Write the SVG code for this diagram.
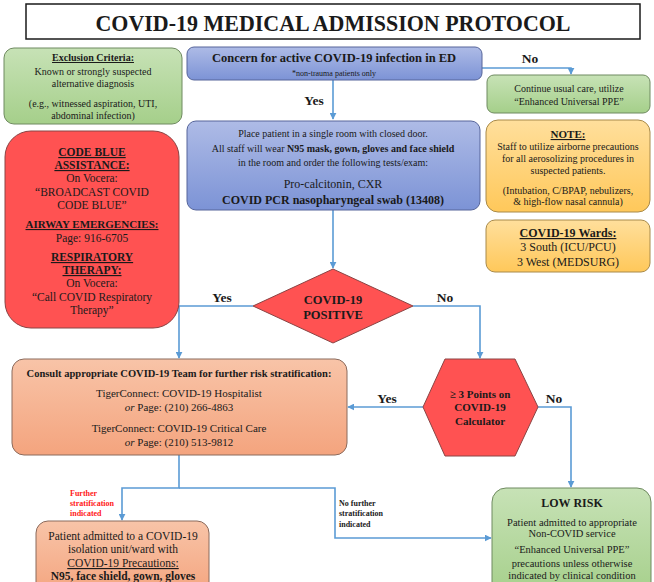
<svg xmlns="http://www.w3.org/2000/svg" width="654" height="582" viewBox="0 0 654 582" font-family="'Liberation Serif', serif">
<defs>
<linearGradient id="gGreen" x1="0" y1="0" x2="0" y2="1"><stop offset="0" stop-color="#c7e2b6"/><stop offset="1" stop-color="#a5cf8a"/></linearGradient>
<linearGradient id="gBlue" x1="0" y1="0" x2="0" y2="1"><stop offset="0" stop-color="#aebbe6"/><stop offset="1" stop-color="#7c93d6"/></linearGradient>
<linearGradient id="gOrange" x1="0" y1="0" x2="0" y2="1"><stop offset="0" stop-color="#ffdf9c"/><stop offset="1" stop-color="#ffc85a"/></linearGradient>
<linearGradient id="gSalmon" x1="0" y1="0" x2="0" y2="1"><stop offset="0" stop-color="#f8c4a8"/><stop offset="1" stop-color="#f4a47e"/></linearGradient>
<marker id="arr" viewBox="0 0 10 10" refX="9" refY="5" markerWidth="7" markerHeight="7" markerUnits="userSpaceOnUse" orient="auto"><path d="M0,0 L10,5 L0,10 z" fill="#5b9bd5"/></marker>
</defs>
<rect width="654" height="582" fill="#ffffff"/>

<g id="title" fill="#1a1a1a" text-anchor="middle">
<rect x="26" y="4" width="614" height="35" fill="#ffffff" stroke="#1a1a1a" stroke-width="1.5"/>
<text font-family="'Liberation Serif', serif" x="333" y="31" font-weight="bold" font-size="24" textLength="475" lengthAdjust="spacingAndGlyphs"><tspan>COVID-19 MEDICAL ADMISSION PROTOCOL</tspan></text>
</g>

<g id="connectors" fill="none" stroke="#5b9bd5" stroke-width="1.6">
<path d="M482,68 H571 V74" marker-end="url(#arr)"/>
<path d="M333,80 V119" marker-end="url(#arr)"/>
<path d="M333,210 V268" marker-end="url(#arr)"/>
<path d="M253,306 H179 V358" marker-end="url(#arr)"/>
<path d="M413,306 H480 V358" marker-end="url(#arr)"/>
<path d="M423,407 H348" marker-end="url(#arr)"/>
<path d="M538,407 H571 V487" marker-end="url(#arr)"/>
<path d="M179,455 V488 H122 V520" marker-end="url(#arr)"/>
<path d="M179,488 H335 V538 H491" marker-end="url(#arr)"/>
</g>
<g id="connector-labels" fill="#1a1a1a" text-anchor="middle" font-weight="bold" font-size="13.5">
<text font-family="'Liberation Serif', serif" x="530" y="63"><tspan>No</tspan></text>
<text font-family="'Liberation Serif', serif" x="314" y="105"><tspan>Yes</tspan></text>
<text font-family="'Liberation Serif', serif" x="222" y="302"><tspan>Yes</tspan></text>
<text font-family="'Liberation Serif', serif" x="445" y="302"><tspan>No</tspan></text>
<text font-family="'Liberation Serif', serif" x="387" y="403"><tspan>Yes</tspan></text>
<text font-family="'Liberation Serif', serif" x="554" y="403"><tspan>No</tspan></text>
<g font-size="8" text-anchor="start">
<text font-family="'Liberation Serif', serif" x="70" y="496" fill="#ff2020"><tspan>Further</tspan></text>
<text font-family="'Liberation Serif', serif" x="70" y="506" fill="#ff2020"><tspan>stratification</tspan></text>
<text font-family="'Liberation Serif', serif" x="70" y="516" fill="#ff2020"><tspan>indicated</tspan></text>
<text font-family="'Liberation Serif', serif" x="339" y="506"><tspan>No further</tspan></text>
<text font-family="'Liberation Serif', serif" x="339" y="516"><tspan>stratification</tspan></text>
<text font-family="'Liberation Serif', serif" x="339" y="527"><tspan>indicated</tspan></text>
</g>
</g>

<g id="exclusion" fill="#1a1a1a" text-anchor="middle" font-size="10">
<rect x="4" y="48" width="178" height="76" rx="10" fill="url(#gGreen)" stroke="#6f8a60"/>
<text font-family="'Liberation Serif', serif" x="93" y="61" font-weight="bold" text-decoration="underline"><tspan>Exclusion Criteria:</tspan></text>
<text font-family="'Liberation Serif', serif" x="93" y="74.5"><tspan>Known or strongly suspected</tspan></text>
<text font-family="'Liberation Serif', serif" x="93" y="87"><tspan>alternative diagnosis</tspan></text>
<text font-family="'Liberation Serif', serif" x="93" y="106.5"><tspan>(e.g., witnessed aspiration, UTI,</tspan></text>
<text font-family="'Liberation Serif', serif" x="93" y="118.5"><tspan>abdominal infection)</tspan></text>
</g>

<g id="concern" fill="#1a1a1a" text-anchor="middle">
<rect x="187" y="47" width="295" height="33" rx="7" fill="url(#gBlue)" stroke="#56659a"/>
<text font-family="'Liberation Serif', serif" x="334" y="62" font-size="12.5" font-weight="bold"><tspan>Concern for active COVID-19 infection in ED</tspan></text>
<text font-family="'Liberation Serif', serif" x="334" y="76" font-size="8"><tspan>*non-trauma patients only</tspan></text>
</g>

<g id="continue" fill="#1a1a1a" text-anchor="middle" font-size="10">
<rect x="487" y="75" width="163" height="38" rx="7" fill="url(#gGreen)" stroke="#6f8a60"/>
<text font-family="'Liberation Serif', serif" x="569" y="92"><tspan>Continue usual care, utilize</tspan></text>
<text font-family="'Liberation Serif', serif" x="569" y="104.5"><tspan>“Enhanced Universal PPE”</tspan></text>
</g>

<g id="isolate" fill="#1a1a1a" text-anchor="middle" font-size="10">
<rect x="187" y="121" width="293" height="89" rx="9" fill="url(#gBlue)" stroke="#56659a"/>
<text font-family="'Liberation Serif', serif" x="333" y="136.5"><tspan>Place patient in a single room with closed door.</tspan></text>
<text font-family="'Liberation Serif', serif" x="333" y="151.5"><tspan>All staff will wear </tspan><tspan font-weight="bold">N95 mask, gown, gloves and face shield</tspan></text>
<text font-family="'Liberation Serif', serif" x="333" y="165.5"><tspan>in the room and order the following tests/exam:</tspan></text>
<text font-family="'Liberation Serif', serif" x="333" y="188" font-size="12"><tspan>Pro-calcitonin, CXR</tspan></text>
<text font-family="'Liberation Serif', serif" x="333" y="204" font-size="12" font-weight="bold"><tspan>COVID PCR nasopharyngeal swab (13408)</tspan></text>
</g>

<g id="codeblue" fill="#1a1a1a" text-anchor="middle" font-size="11.5">
<rect x="5" y="131" width="174" height="197" rx="26" fill="#ff5252" stroke="#8a4444"/>
<text font-family="'Liberation Serif', serif" x="92" y="156" font-weight="bold" text-decoration="underline"><tspan>CODE BLUE</tspan></text>
<text font-family="'Liberation Serif', serif" x="92" y="169" font-weight="bold" text-decoration="underline"><tspan>ASSISTANCE:</tspan></text>
<text font-family="'Liberation Serif', serif" x="92" y="182"><tspan>On Vocera:</tspan></text>
<text font-family="'Liberation Serif', serif" x="92" y="196"><tspan>“BROADCAST COVID</tspan></text>
<text font-family="'Liberation Serif', serif" x="92" y="209"><tspan>CODE BLUE”</tspan></text>
<text font-family="'Liberation Serif', serif" x="92" y="228" font-size="11" font-weight="bold" text-decoration="underline"><tspan>AIRWAY EMERGENCIES:</tspan></text>
<text font-family="'Liberation Serif', serif" x="92" y="242"><tspan>Page: 916-6705</tspan></text>
<text font-family="'Liberation Serif', serif" x="92" y="261" font-weight="bold" text-decoration="underline"><tspan>RESPIRATORY</tspan></text>
<text font-family="'Liberation Serif', serif" x="92" y="274" font-weight="bold" text-decoration="underline"><tspan>THERAPY:</tspan></text>
<text font-family="'Liberation Serif', serif" x="92" y="287"><tspan>On Vocera:</tspan></text>
<text font-family="'Liberation Serif', serif" x="92" y="301"><tspan>“Call COVID Respiratory</tspan></text>
<text font-family="'Liberation Serif', serif" x="92" y="314"><tspan>Therapy”</tspan></text>
</g>

<g id="note" fill="#1a1a1a" text-anchor="middle" font-size="10">
<rect x="486" y="120" width="164" height="92" rx="12" fill="url(#gOrange)" stroke="#a88a4a"/>
<text font-family="'Liberation Serif', serif" x="568" y="138" font-size="11" font-weight="bold" text-decoration="underline"><tspan>NOTE:</tspan></text>
<text font-family="'Liberation Serif', serif" x="568" y="150"><tspan>Staff to utilize airborne precautions</tspan></text>
<text font-family="'Liberation Serif', serif" x="568" y="162"><tspan>for all aerosolizing procedures in</tspan></text>
<text font-family="'Liberation Serif', serif" x="568" y="174"><tspan>suspected patients.</tspan></text>
<text font-family="'Liberation Serif', serif" x="568" y="194"><tspan>(Intubation, C/BPAP, nebulizers,</tspan></text>
<text font-family="'Liberation Serif', serif" x="568" y="205"><tspan>&amp; high-flow nasal cannula)</tspan></text>
</g>

<g id="wards" fill="#1a1a1a" text-anchor="middle" font-size="12">
<rect x="486" y="220" width="164" height="52" rx="9" fill="url(#gOrange)" stroke="#a88a4a"/>
<text font-family="'Liberation Serif', serif" x="568" y="237" font-weight="bold" text-decoration="underline"><tspan>COVID-19 Wards:</tspan></text>
<text font-family="'Liberation Serif', serif" x="568" y="251"><tspan>3 South (ICU/PCU)</tspan></text>
<text font-family="'Liberation Serif', serif" x="568" y="266"><tspan>3 West (MEDSURG)</tspan></text>
</g>

<g id="positive" fill="#1a1a1a" text-anchor="middle" font-size="12.5" font-weight="bold">
<polygon points="333,269 413,306 333,343 253,306" fill="#ff5252" stroke="#8a4444"/>
<text font-family="'Liberation Serif', serif" x="333" y="303.5"><tspan>COVID-19</tspan></text>
<text font-family="'Liberation Serif', serif" x="333" y="318.5"><tspan>POSITIVE</tspan></text>
</g>

<g id="consult" fill="#1a1a1a" text-anchor="middle" font-size="11">
<rect x="12" y="359" width="335" height="96" rx="12" fill="url(#gSalmon)" stroke="#8a6a5c"/>
<text font-family="'Liberation Serif', serif" x="179" y="377" font-size="10.5" font-weight="bold"><tspan>Consult appropriate COVID-19 Team for further risk stratification:</tspan></text>
<text font-family="'Liberation Serif', serif" x="179" y="397"><tspan>TigerConnect: COVID-19 Hospitalist</tspan></text>
<text font-family="'Liberation Serif', serif" x="179" y="411"><tspan font-style="italic">or</tspan><tspan> Page: (210) 266-4863</tspan></text>
<text font-family="'Liberation Serif', serif" x="179" y="432"><tspan>TigerConnect: COVID-19 Critical Care</tspan></text>
<text font-family="'Liberation Serif', serif" x="179" y="446"><tspan font-style="italic">or</tspan><tspan> Page: (210) 513-9812</tspan></text>
</g>

<g id="calculator" fill="#1a1a1a" text-anchor="middle" font-size="11" font-weight="bold">
<polygon points="445,359 515,359 538,407 515,456 445,456 423,407" fill="#ff5252" stroke="#8a4444"/>
<text font-family="'Liberation Serif', serif" x="480" y="398"><tspan>≥ 3 Points on</tspan></text>
<text font-family="'Liberation Serif', serif" x="480" y="411"><tspan>COVID-19</tspan></text>
<text font-family="'Liberation Serif', serif" x="480" y="425"><tspan>Calculator</tspan></text>
</g>

<g id="admitted" fill="#1a1a1a" text-anchor="middle" font-size="11.5">
<rect x="36" y="521" width="173" height="75" rx="12" fill="url(#gSalmon)" stroke="#8a6a5c"/>
<text font-family="'Liberation Serif', serif" x="123" y="540"><tspan>Patient admitted to a COVID-19</tspan></text>
<text font-family="'Liberation Serif', serif" x="123" y="553"><tspan>isolation unit/ward with</tspan></text>
<text font-family="'Liberation Serif', serif" x="123" y="567" text-decoration="underline"><tspan>COVID-19 Precautions:</tspan></text>
<text font-family="'Liberation Serif', serif" x="123" y="580" font-weight="bold"><tspan>N95, face shield, gown, gloves</tspan></text>
</g>

<g id="lowrisk" fill="#1a1a1a" text-anchor="middle" font-size="10.5">
<rect x="492" y="488" width="159" height="110" rx="14" fill="url(#gGreen)" stroke="#6f8a60"/>
<text font-family="'Liberation Serif', serif" x="572" y="507" font-size="12" font-weight="bold"><tspan>LOW RISK</tspan></text>
<text font-family="'Liberation Serif', serif" x="572" y="526"><tspan>Patient admitted to appropriate</tspan></text>
<text font-family="'Liberation Serif', serif" x="572" y="537"><tspan>Non-COVID service</tspan></text>
<text font-family="'Liberation Serif', serif" x="572" y="553"><tspan>“Enhanced Universal PPE”</tspan></text>
<text font-family="'Liberation Serif', serif" x="572" y="567"><tspan>precautions unless otherwise</tspan></text>
<text font-family="'Liberation Serif', serif" x="572" y="579"><tspan>indicated by clinical condition</tspan></text>
</g>
</svg>
